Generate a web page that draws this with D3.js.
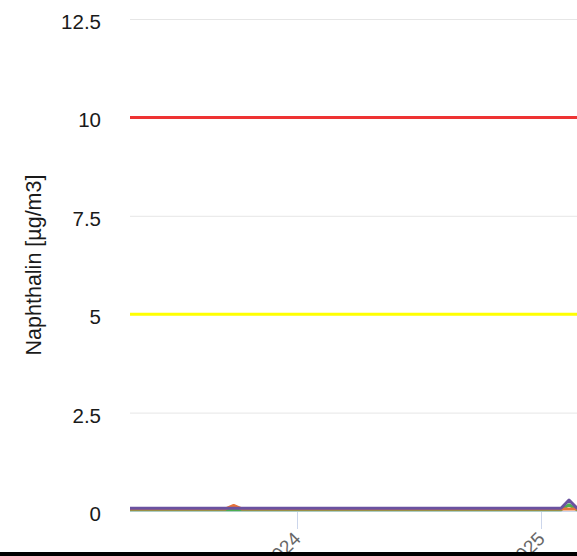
<!DOCTYPE html>
<html>
<head>
<meta charset="utf-8">
<script src="https://cdn.jsdelivr.net/npm/d3@7"></script>
<style>
  body { margin: 0; background: #fff; }
  svg { display: block; font-family: "Liberation Sans", Arial, sans-serif; }
</style>
</head>
<body>
<svg id="chart" width="577" height="556"></svg>
<script>
// DATA
const dates = ["2023-04-10", "2023-06-01", "2023-07-20", "2023-09-15", "2023-09-28", "2023-10-11",
  "2023-12-01", "2024-02-01", "2024-04-01", "2024-06-01", "2024-08-01", "2024-10-01",
  "2024-12-01", "2025-01-31", "2025-02-12", "2025-02-24", "2025-03-10"];
const seriesGreen  = [0.03, 0.03, 0.03, 0.03, 0.03, 0.03, 0.03, 0.03, 0.03, 0.03, 0.03, 0.03, 0.03, 0.03, 0.16, 0.03, 0.03];
const seriesOrange = [0.05, 0.05, 0.05, 0.05, 0.14, 0.05, 0.05, 0.05, 0.05, 0.05, 0.05, 0.05, 0.05, 0.05, 0.05, 0.05, 0.05];
const seriesPurple = [0.07, 0.07, 0.07, 0.07, 0.07, 0.07, 0.07, 0.07, 0.07, 0.07, 0.07, 0.07, 0.07, 0.07, 0.28, 0.07, 0.07];
const yTicks = [0, 2.5, 5, 7.5, 10, 12.5];
const xTicks = ["2024-01-01", "2025-01-01"];
const limits = [{ value: 10, color: "#ee3333" }, { value: 5, color: "#ffff00" }];
const yTitle = "Naphthalin [µg/m3]";

const width = 577, height = 556;
const margin = { left: 130, right: 0, top: 19, bottom: 511 };
const parse = d3.timeParse("%Y-%m-%d");

const svg = d3.select("#chart");

/* SCALES */
const xScale = d3.scaleTime()
  .domain([parse("2024-01-01"), parse("2025-01-01")])
  .range([297, 541]);

const yScale = d3.scaleLinear()
  .domain([0, 12.5])
  .range([margin.bottom, margin.top]);

// clip for plot area
svg.append("clipPath").attr("id", "plot")
  .append("rect")
  .attr("x", margin.left).attr("y", 0)
  .attr("width", width - margin.left).attr("height", margin.bottom + 2);

// GRID
svg.append("g").selectAll("line")
  .data(yTicks)
  .join("line")
  .attr("x1", margin.left).attr("x2", width)
  .attr("y1", d => yScale(d) + 0.5).attr("y2", d => yScale(d) + 0.5)
  .attr("stroke", "#e6e6e6");

// Y TICK LABELS
svg.append("g").selectAll("text")
  .data(yTicks)
  .join("text")
  .attr("x", 101)
  .attr("y", d => yScale(d) + 10)
  .attr("text-anchor", "end")
  .attr("font-size", "20.5px")
  .attr("fill", "#1a1a1a")
  .text(d => d);

// Y TITLE
svg.append("text")
  .attr("transform", `translate(41, 265) rotate(-90)`)
  .attr("text-anchor", "middle")
  .attr("font-size", "21.5px")
  .attr("fill", "#1a1a1a")
  .text(yTitle);

// LIMIT LINES
svg.append("g").selectAll("line")
  .data(limits)
  .join("line")
  .attr("x1", margin.left).attr("x2", width)
  .attr("y1", d => yScale(d.value)).attr("y2", d => yScale(d.value))
  .attr("stroke", d => d.color)
  .attr("stroke-width", 3);

// X AXIS
svg.append("line")
  .attr("x1", margin.left).attr("x2", width)
  .attr("y1", margin.bottom + 0.5).attr("y2", margin.bottom + 0.5)
  .attr("stroke", "#ccd6eb");

svg.append("g").selectAll("line")
  .data(xTicks)
  .join("line")
  .attr("x1", d => Math.round(xScale(parse(d))) + 0.5)
  .attr("x2", d => Math.round(xScale(parse(d))) + 0.5)
  .attr("y1", margin.bottom).attr("y2", margin.bottom + 18)
  .attr("stroke", "#ccd6eb");

svg.append("g").selectAll("text")
  .data(xTicks)
  .join("text")
  .attr("transform", d => `translate(${xScale(parse(d)) + 5}, 540) rotate(-45)`)
  .attr("text-anchor", "end")
  .attr("font-size", "19px")
  .attr("fill", "#666")
  .text(d => d.slice(0, 4));

// SERIES
const line = d3.line()
  .x((d, i) => xScale(parse(dates[i])))
  .y(d => yScale(d));

const series = [
  { values: seriesGreen, color: "#4caf50" },
  { values: seriesOrange, color: "#e8743b" },
  { values: seriesPurple, color: "#6a52a0" }
];

svg.append("g").attr("clip-path", "url(#plot)")
  .selectAll("path")
  .data(series)
  .join("path")
  .attr("d", d => line(d.values))
  .attr("fill", "none")
  .attr("stroke", d => d.color)
  .attr("stroke-width", 3)
  .attr("stroke-linejoin", "round");

// bottom border
svg.append("rect")
  .attr("x", 0).attr("y", 552)
  .attr("width", width).attr("height", 4)
  .attr("fill", "#000");
</script>
</body>
</html>
